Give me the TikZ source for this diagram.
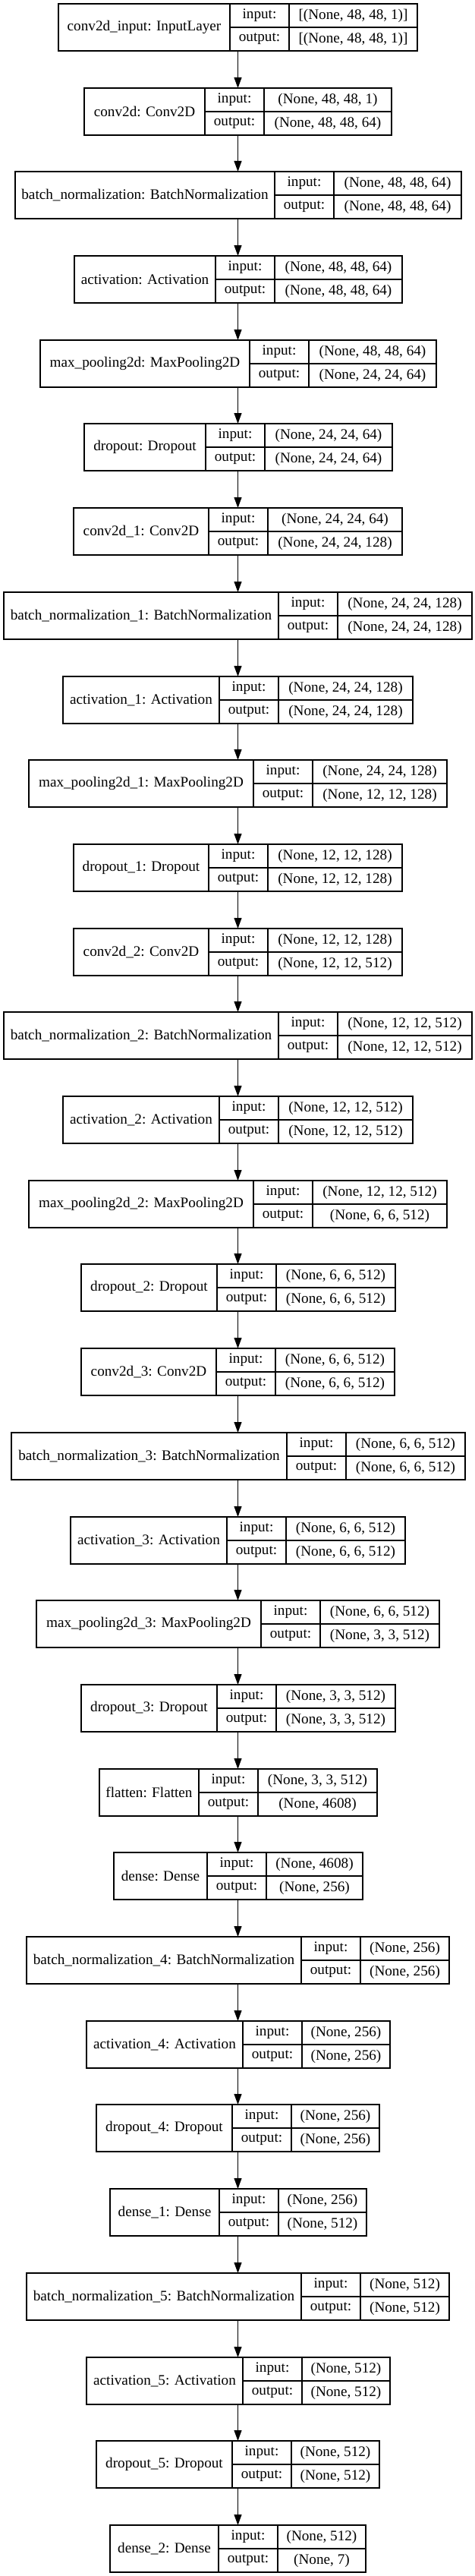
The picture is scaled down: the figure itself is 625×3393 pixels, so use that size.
\documentclass[tikz,border=0pt]{standalone}
\usepackage{fontspec}
\setmainfont{Liberation Serif}
\usetikzlibrary{arrows.meta}

\tikzset{
  cell/.style={draw, line width=1.2pt, inner sep=0pt, outer sep=0pt, anchor=north west,
    font=\fontsize{19.2pt}{23pt}\selectfont},
  namecell/.style={cell, minimum height=62pt},
  portcell/.style={cell, minimum width=78pt, minimum height=31pt},
  valcell/.style={cell, minimum height=31pt},
  flow/.style={line width=1.1pt, -{Triangle[length=14pt,width=10pt]}}
}

\begin{document}
\begin{tikzpicture}[x=1pt, y=-1pt]
    \fill[white] (0,0) rectangle (625,3393);
    \useasboundingbox (0,0) rectangle (625,3393);
    % one row per layer: index / name width / value width / name / input / output
    \foreach \k/\wa/\wc/\lab/\ins/\outs in {
      0/226/169/{conv2d\_input: InputLayer}/{[(None, 48, 48, 1)]}/{[(None, 48, 48, 1)]},
      1/159/168/{conv2d: Conv2D}/{(None, 48, 48, 1)}/{(None, 48, 48, 64)},
      2/342/168/{batch\_normalization: BatchNormalization}/{(None, 48, 48, 64)}/{(None, 48, 48, 64)},
      3/186/168/{activation: Activation}/{(None, 48, 48, 64)}/{(None, 48, 48, 64)},
      4/276/168/{max\_pooling2d: MaxPooling2D}/{(None, 48, 48, 64)}/{(None, 24, 24, 64)},
      5/160/168/{dropout: Dropout}/{(None, 24, 24, 64)}/{(None, 24, 24, 64)},
      6/178/177/{conv2d\_1: Conv2D}/{(None, 24, 24, 64)}/{(None, 24, 24, 128)},
      7/362/177/{batch\_normalization\_1: BatchNormalization}/{(None, 24, 24, 128)}/{(None, 24, 24, 128)},
      8/206/177/{activation\_1: Activation}/{(None, 24, 24, 128)}/{(None, 24, 24, 128)},
      9/296/177/{max\_pooling2d\_1: MaxPooling2D}/{(None, 24, 24, 128)}/{(None, 12, 12, 128)},
      10/178/177/{dropout\_1: Dropout}/{(None, 12, 12, 128)}/{(None, 12, 12, 128)},
      11/178/177/{conv2d\_2: Conv2D}/{(None, 12, 12, 128)}/{(None, 12, 12, 512)},
      12/362/177/{batch\_normalization\_2: BatchNormalization}/{(None, 12, 12, 512)}/{(None, 12, 12, 512)},
      13/206/177/{activation\_2: Activation}/{(None, 12, 12, 512)}/{(None, 12, 12, 512)},
      14/296/177/{max\_pooling2d\_2: MaxPooling2D}/{(None, 12, 12, 512)}/{(None, 6, 6, 512)},
      15/179/157/{dropout\_2: Dropout}/{(None, 6, 6, 512)}/{(None, 6, 6, 512)},
      16/178/157/{conv2d\_3: Conv2D}/{(None, 6, 6, 512)}/{(None, 6, 6, 512)},
      17/363/157/{batch\_normalization\_3: BatchNormalization}/{(None, 6, 6, 512)}/{(None, 6, 6, 512)},
      18/206/157/{activation\_3: Activation}/{(None, 6, 6, 512)}/{(None, 6, 6, 512)},
      19/296/157/{max\_pooling2d\_3: MaxPooling2D}/{(None, 6, 6, 512)}/{(None, 3, 3, 512)},
      20/179/157/{dropout\_3: Dropout}/{(None, 3, 3, 512)}/{(None, 3, 3, 512)},
      21/131/157/{flatten: Flatten}/{(None, 3, 3, 512)}/{(None, 4608)},
      22/123/127/{dense: Dense}/{(None, 4608)}/{(None, 256)},
      23/362/117/{batch\_normalization\_4: BatchNormalization}/{(None, 256)}/{(None, 256)},
      24/206/116/{activation\_4: Activation}/{(None, 256)}/{(None, 256)},
      25/179/116/{dropout\_4: Dropout}/{(None, 256)}/{(None, 256)},
      26/144/116/{dense\_1: Dense}/{(None, 256)}/{(None, 512)},
      27/362/117/{batch\_normalization\_5: BatchNormalization}/{(None, 512)}/{(None, 512)},
      28/206/116/{activation\_5: Activation}/{(None, 512)}/{(None, 512)},
      29/179/116/{dropout\_5: Dropout}/{(None, 512)}/{(None, 512)},
      30/143/116/{dense\_2: Dense}/{(None, 512)}/{(None, 7)}
    }{
      \pgfmathsetmacro\ytop{round(5+110.7*\k)}
      \pgfmathsetmacro\xleft{round(313.5-(\wa+78+\wc)/2)}
      \node[namecell, minimum width=\wa pt] (n\k) at (\xleft,\ytop) {\lab};
      \node[portcell] (pi\k) at (n\k.north east) {input:};
      \node[portcell] (po\k) at (pi\k.south west) {output:};
      \node[valcell, minimum width=\wc pt] (vi\k) at (pi\k.north east) {\ins};
      \node[valcell, minimum width=\wc pt] (vo\k) at (vi\k.south west) {\outs};
      \coordinate (t\k) at (313.5,\ytop);
      \coordinate (b\k) at (313.5,\ytop+62);
    }
    % arrows between consecutive layers
    \foreach \k [count=\j from 0] in {1,...,30}
      \draw[flow] (b\j) -- (t\k);
\end{tikzpicture}
\end{document}
